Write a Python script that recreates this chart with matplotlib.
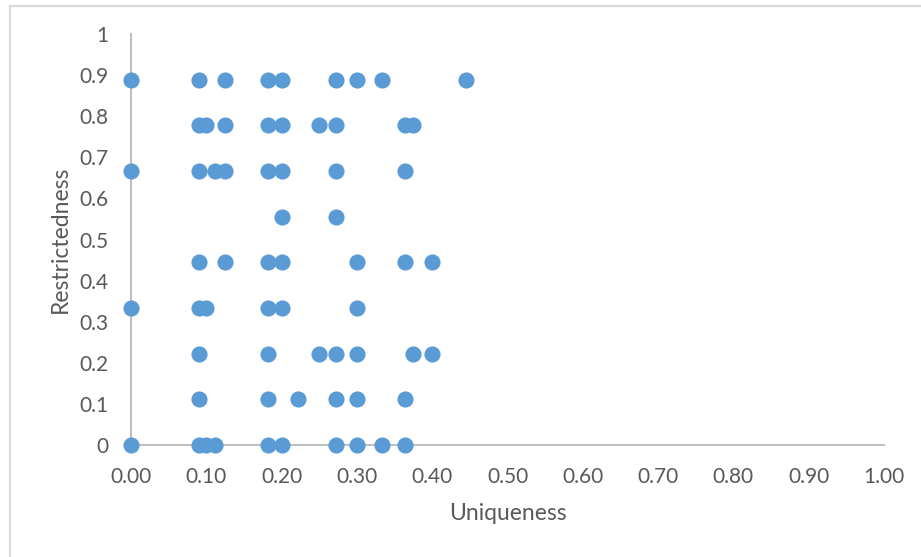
import matplotlib
matplotlib.use("Agg")
import matplotlib.pyplot as plt
from matplotlib.patches import Rectangle

# Data: (uniqueness, restrictedness)
row_y = [8/9, 7/9, 6/9, 5/9, 4/9, 3/9, 2/9, 1/9, 0.0]
row_x = [
    [0.0, 1/11, 1/8, 2/11, 0.2, 3/11, 0.3, 1/3, 4/9],
    [1/11, 0.1, 1/8, 2/11, 0.2, 0.25, 3/11, 4/11, 3/8],
    [0.0, 1/11, 1/9, 1/8, 2/11, 0.2, 3/11, 4/11],
    [0.2, 3/11],
    [1/11, 1/8, 2/11, 0.2, 0.3, 4/11, 0.4],
    [0.0, 1/11, 0.1, 2/11, 0.2, 0.3],
    [1/11, 2/11, 0.25, 3/11, 0.3, 3/8, 0.4],
    [1/11, 2/11, 2/9, 3/11, 0.3, 4/11],
    [0.0, 1/11, 0.1, 1/9, 2/11, 0.2, 3/11, 0.3, 1/3, 4/11],
]
x_ticks = [i / 10 for i in range(11)]
x_tick_labels = [f"{v:.2f}" for v in x_ticks]
y_ticks = [i / 10 for i in range(11)]
y_tick_labels = ["0"] + [f"{v:.1f}" for v in y_ticks[1:-1]] + ["1"]

xs, ys = [], []
for yv, xr in zip(row_y, row_x):
    for xv in xr:
        xs.append(xv)
        ys.append(yv)

plt.rcParams['font.family'] = ['Lato', 'DejaVu Sans']

W, H = 921, 557
fig = plt.figure(figsize=(W / 100, H / 100), dpi=100)
fig.patch.set_facecolor('white')

# outer border
fig.patches.append(Rectangle((10 / W, -0.1), 1.2, (H - 6) / H + 0.1,
                             transform=fig.transFigure, fill=False,
                             edgecolor='#d9d9d9', linewidth=1.6))

ax = fig.add_axes([131 / W, (H - 445) / H, (884 - 131) / W, (445 - 34) / H])
ax.scatter(xs, ys, s=135, color='#5b9bd5', zorder=3, clip_on=False, linewidths=0)
ax.set_xlim(0, 1)
ax.set_ylim(0, 1)
ax.set_xticks(x_ticks)
ax.set_xticklabels(x_tick_labels)
ax.set_yticks(y_ticks)
ax.set_yticklabels(y_tick_labels)
for s in ['top', 'right']:
    ax.spines[s].set_visible(False)
for s in ['left', 'bottom']:
    ax.spines[s].set_color('#bfbfbf')
    ax.spines[s].set_linewidth(1.5)
ax.tick_params(length=0, labelsize=15, colors='#595959')
ax.tick_params(axis='x', pad=16)
ax.tick_params(axis='y', pad=16)
ax.set_xlabel('Uniqueness', fontsize=16.5, color='#595959', labelpad=11)
ax.set_ylabel('Restrictedness', fontsize=16.5, color='#595959', labelpad=6)

fig.savefig('out.png', dpi=100, facecolor='white')
